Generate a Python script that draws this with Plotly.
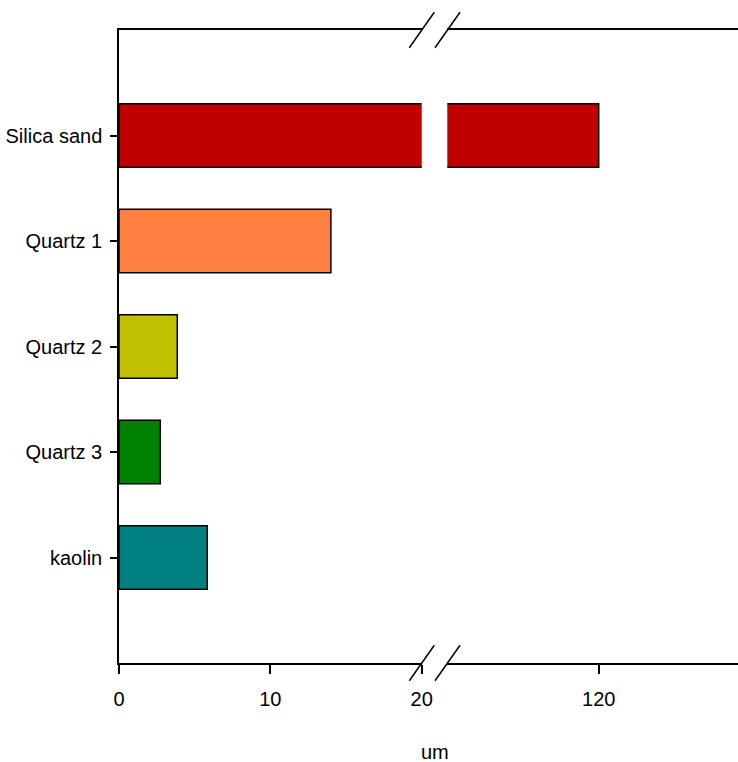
import plotly.graph_objects as go

# Particle size of the materials (um)
materials = ["kaolin", "Quartz 3", "Quartz 2", "Quartz 1", "Silica sand"]
sizes = [5.83, 2.73, 3.85, 14.0, 120.0]
colors = ["#008080", "#008000", "#C0C000", "#FF8040", "#C00000"]

low_ticks = [0, 10, 20]
high_ticks = [120]

W, H = 738, 762
TOP, BOTTOM = 30, 663          # plot area in pixels
LEFT, BREAK_L, BREAK_R = 119, 421.7, 447.3

FONT = "Liberation Sans Narrow, Arial Narrow, Liberation Sans, Arial, sans-serif"
FSIZE = 20

fig = go.Figure()
for xa in ["x", "x2"]:
    fig.add_trace(go.Bar(
        y=materials, x=sizes, orientation="h", xaxis=xa, yaxis="y",
        width=0.6, marker=dict(color=colors, line=dict(color="black", width=1.5)),
        showlegend=False, hoverinfo="x+y",
    ))

axis_common = dict(
    showline=True, linecolor="black", linewidth=2, mirror=True,
    ticks="outside", ticklen=9, tickwidth=1.5, tickcolor="black",
    showgrid=False, zeroline=False, fixedrange=True, automargin=False,
    ticklabelstandoff=8,
    tickfont=dict(family=FONT, size=FSIZE, color="black"),
)

fig.update_layout(
    width=W, height=H,
    margin=dict(l=0, r=0, t=TOP, b=H - BOTTOM, pad=0, autoexpand=False),
    paper_bgcolor="white", plot_bgcolor="white",
    bargap=0.4,
    xaxis=dict(domain=[LEFT / W, BREAK_L / W], range=[0, 20],
               tickvals=low_ticks, anchor="y", **axis_common),
    xaxis2=dict(domain=[BREAK_R / W, 1.0], range=[110, 129.2],
                tickvals=high_ticks, anchor="y", **axis_common),
    yaxis=dict(anchor="x", categoryorder="array", categoryarray=materials,
               range=[-1, 5], showline=True, linecolor="black", linewidth=1.5,
               ticks="outside", ticklen=7, tickwidth=1.5, tickcolor="black",
               showgrid=False, zeroline=False, fixedrange=True, automargin=False,
               ticklabelstandoff=4,
               tickfont=dict(family=FONT, size=FSIZE, color="black")),
)


def px_x(p):
    return p / W


def px_y(p):
    return (BOTTOM - p) / (BOTTOM - TOP)


# Axis-break marks on the top and bottom axis lines
for axis_y in (TOP, BOTTOM):
    for x0 in (409.3, 435.0):
        fig.add_shape(type="line", xref="paper", yref="paper",
                      x0=px_x(x0), y0=px_y(axis_y + 17.7),
                      x1=px_x(x0 + 25), y1=px_y(axis_y - 17.7),
                      line=dict(color="black", width=1.5))

fig.add_annotation(text="um", xref="paper", yref="paper",
                   x=px_x(435), y=px_y(739), xanchor="center", yanchor="top",
                   showarrow=False, font=dict(family=FONT, size=FSIZE, color="black"))

fig.write_html("out.html")
